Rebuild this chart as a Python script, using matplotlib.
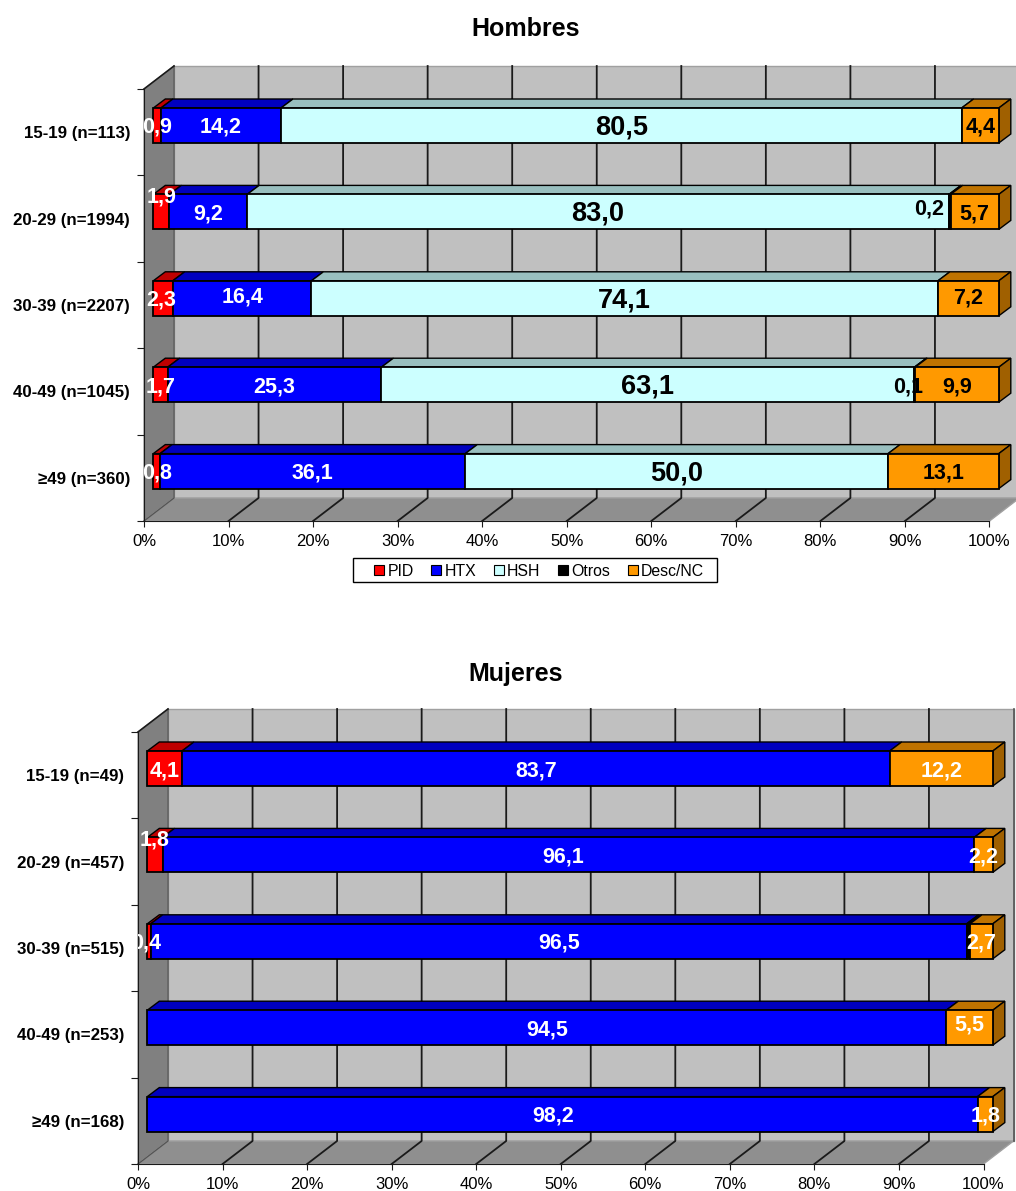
import numpy as np
import matplotlib
matplotlib.use("Agg")
import matplotlib.pyplot as plt
from matplotlib.patches import Patch, Polygon, Rectangle

# Data, top row first
series = ["PID", "HTX", "HSH", "Otros", "Desc/NC"]
ticks_pct = [0, 10, 20, 30, 40, 50, 60, 70, 80, 90, 100]

cats_h = ["15-19 (n=113)", "20-29 (n=1994)", "30-39 (n=2207)", "40-49 (n=1045)", "≥49 (n=360)"]
pid_h = [0.9, 1.9, 2.3, 1.7, 0.8]
htx_h = [14.2, 9.2, 16.4, 25.3, 36.1]
hsh_h = [80.5, 83.0, 74.1, 63.1, 50.0]
otros_h = [0, 0.2, 0, 0.1, 0]
desc_h = [4.4, 5.7, 7.2, 9.9, 13.1]

cats_m = ["15-19 (n=49)", "20-29 (n=457)", "30-39 (n=515)", "40-49 (n=253)", "≥49 (n=168)"]
pid_m = [4.1, 1.8, 0.4, 0, 0]
htx_m = [83.7, 96.1, 96.5, 94.5, 98.2]
hsh_m = [0, 0, 0, 0, 0]
otros_m = [0, 0, 0.4, 0, 0]
desc_m = [12.2, 2.2, 2.7, 5.5, 1.8]

# colours
front_cols = ["#FF0000", "#0000FF", "#CCFFFF", "#000000", "#FF9900"]
top_cols = ["#BF0000", "#0000BF", "#99BFBF", "#000000", "#BF7300"]
side_col = "#A06000"

W, H = 1016, 1191
PX_PER_PCT = 8.455
PX_PER_ROW = 86.4
BOLD = "Liberation Sans"

# label nudges in pixels (series index, row) -> dx, dy
nudges_h = {(0, 1): (0, 17), (0, 2): (-2, 0), (1, 2): (0, 3), (4, 2): (0, 2), (3, 1): (-21, 5), (3, 3): (-7, 0)}
nudges_m = {(0, 1): (0, 17), (0, 2): (-3, 0), (4, 3): (0, 5), (1, 1): (-5, 0), (1, 4): (-9, 0)}


def fmt(v):
    return f"{v:.1f}".replace(".", ",")


def draw_chart(fig, x0, y_top, title, title_x, title_y, cats, rows, label_cols, big_hsh, nudges, hidden):
    ax = fig.add_axes([x0 / W, 1 - (y_top + 432) / H, 845.5 / W, 432 / H])
    ax.set_xlim(0, 100)
    ax.set_ylim(5, 0)
    ax.patch.set_visible(False)

    # depth of the box and of the bars in data units
    dx, dy = 30 / PX_PER_PCT, 23 / PX_PER_ROW
    bdx, bdy = 12 / PX_PER_PCT, 9 / PX_PER_ROW
    off_x, off_y = 9.3 / PX_PER_PCT, -6.7 / PX_PER_ROW
    bar_h = 35 / PX_PER_ROW

    walls = [
        ([(dx, -dy), (100 + dx, -dy), (100 + dx, 5 - dy), (dx, 5 - dy)], "#C0C0C0"),
        ([(0, 0), (dx, -dy), (dx, 5 - dy), (0, 5)], "#808080"),
        ([(0, 5), (dx, 5 - dy), (100 + dx, 5 - dy), (100, 5)], "#8F8F8F"),
    ]
    for pts, col in walls:
        ax.add_patch(Polygon(pts, closed=True, facecolor=col, edgecolor="#A0A0A0", lw=1, clip_on=False, zorder=1))

    for t in ticks_pct[1:-1]:
        ax.plot([t + dx, t + dx, t], [-dy, 5 - dy, 5], color="#1A1A1A", lw=1.3, clip_on=False, zorder=1.5)
    ax.plot([dx, dx, 0], [-dy, 5 - dy, 5], color="#555555", lw=1, clip_on=False, zorder=1.5)
    ax.plot([0, dx], [0, -dy], color="#1A1A1A", lw=1.2, clip_on=False, zorder=1.5)
    ax.plot([100 + dx, 100 + dx], [-dy, 5 - dy], color="#555555", lw=1.2, clip_on=False, zorder=1.5)

    values = np.array(rows, dtype=float)
    totals = values.sum(axis=0)
    for r in range(5):
        left = off_x
        ytop = r + 0.5 + off_y - bar_h / 2
        for s in range(5):
            raw = values[s, r]
            if raw == 0:
                continue
            w = raw / totals[r] * 100
            ax.barh(r + 0.5 + off_y, w, height=bar_h, left=left, color=front_cols[s],
                    edgecolor="#000000", lw=1.3, clip_on=False, zorder=3)
            top = [(left, ytop), (left + bdx, ytop - bdy), (left + w + bdx, ytop - bdy), (left + w, ytop)]
            ax.add_patch(Polygon(top, closed=True, facecolor=top_cols[s], edgecolor="#000000",
                                 lw=1.0, clip_on=False, zorder=2.8))

            col = label_cols[s]
            size = 15.5
            if s == 2 and big_hsh:
                size = 19.5
            if (s, r) not in hidden:
                nx, ny = nudges.get((s, r), (0, 0))
                ax.annotate(fmt(raw), xy=(left + w / 2, r + 0.5 + off_y), xytext=(nx, ny - 2),
                            textcoords="offset pixels", ha="center", va="center",
                            color=col, fontsize=size, fontweight="bold", family=BOLD,
                            annotation_clip=False, clip_on=(s == 0 and left + w / 2 < 4), zorder=5)
            left += w
        side = [(100 + off_x, ytop), (100 + off_x + bdx, ytop - bdy),
                (100 + off_x + bdx, ytop - bdy + bar_h), (100 + off_x, ytop + bar_h)]
        ax.add_patch(Polygon(side, closed=True, facecolor=side_col, edgecolor="#000000",
                             lw=1.0, clip_on=False, zorder=2.9))

    # axes
    for sp in ["top", "right"]:
        ax.spines[sp].set_visible(False)
    for sp in ["left", "bottom"]:
        ax.spines[sp].set_color("#1A1A1A")
        ax.spines[sp].set_zorder(2)
    ax.set_xticks(ticks_pct)
    ax.set_xticklabels([f"{t}%" for t in ticks_pct], fontsize=12, family="Liberation Sans")
    ax.tick_params(axis="x", length=4, pad=5.5, color="#1A1A1A")
    ax.set_yticks(range(6))
    ax.set_yticklabels([])
    ax.tick_params(axis="y", which="major", length=5, color="#1A1A1A")
    ax.set_yticks(np.arange(5) + 0.5, minor=True)
    ax.set_yticklabels(cats, minor=True, fontsize=12.2, fontweight="bold", family=BOLD)
    ax.tick_params(axis="y", which="minor", length=0, pad=10)

    fig.text(title_x / W, 1 - title_y / H, title, ha="center", va="center",
             fontsize=18, fontweight="bold", family=BOLD)
    return ax


fig = plt.figure(figsize=(W / 100, H / 100), dpi=100)

ax_h = draw_chart(fig, 144, 89, "Hombres", 526, 29.5, cats_h,
                  [pid_h, htx_h, hsh_h, otros_h, desc_h],
                  ["white", "white", "black", "black", "black"], True, nudges_h, set())
ax_m = draw_chart(fig, 138, 732, "Mujeres", 516, 673.5, cats_m,
                  [pid_m, htx_m, hsh_m, otros_m, desc_m],
                  ["white", "white", "black", "white", "white"], False, nudges_m, {(3, 2)})

# legend box is bigger than the entries, so drawn apart
fig.add_artist(Rectangle((353 / W, 1 - 582 / H), 364 / W, 24 / H, transform=fig.transFigure,
                         facecolor="white", edgecolor="black", lw=1, zorder=-1))
handles = [Patch(facecolor=c, edgecolor="black", lw=0.8) for c in front_cols]
leg = ax_h.legend(handles, series, loc="center", bbox_to_anchor=((539 - 144) / 845.5, 1 - (571 - 89) / 432),
                  ncol=5, frameon=False, borderpad=0.2,
                  handlelength=0.65, handleheight=0.65, handletextpad=0.2, columnspacing=1.1,
                  prop={"family": "Liberation Sans", "size": 11.4})

fig.savefig("out.png", dpi=100)
